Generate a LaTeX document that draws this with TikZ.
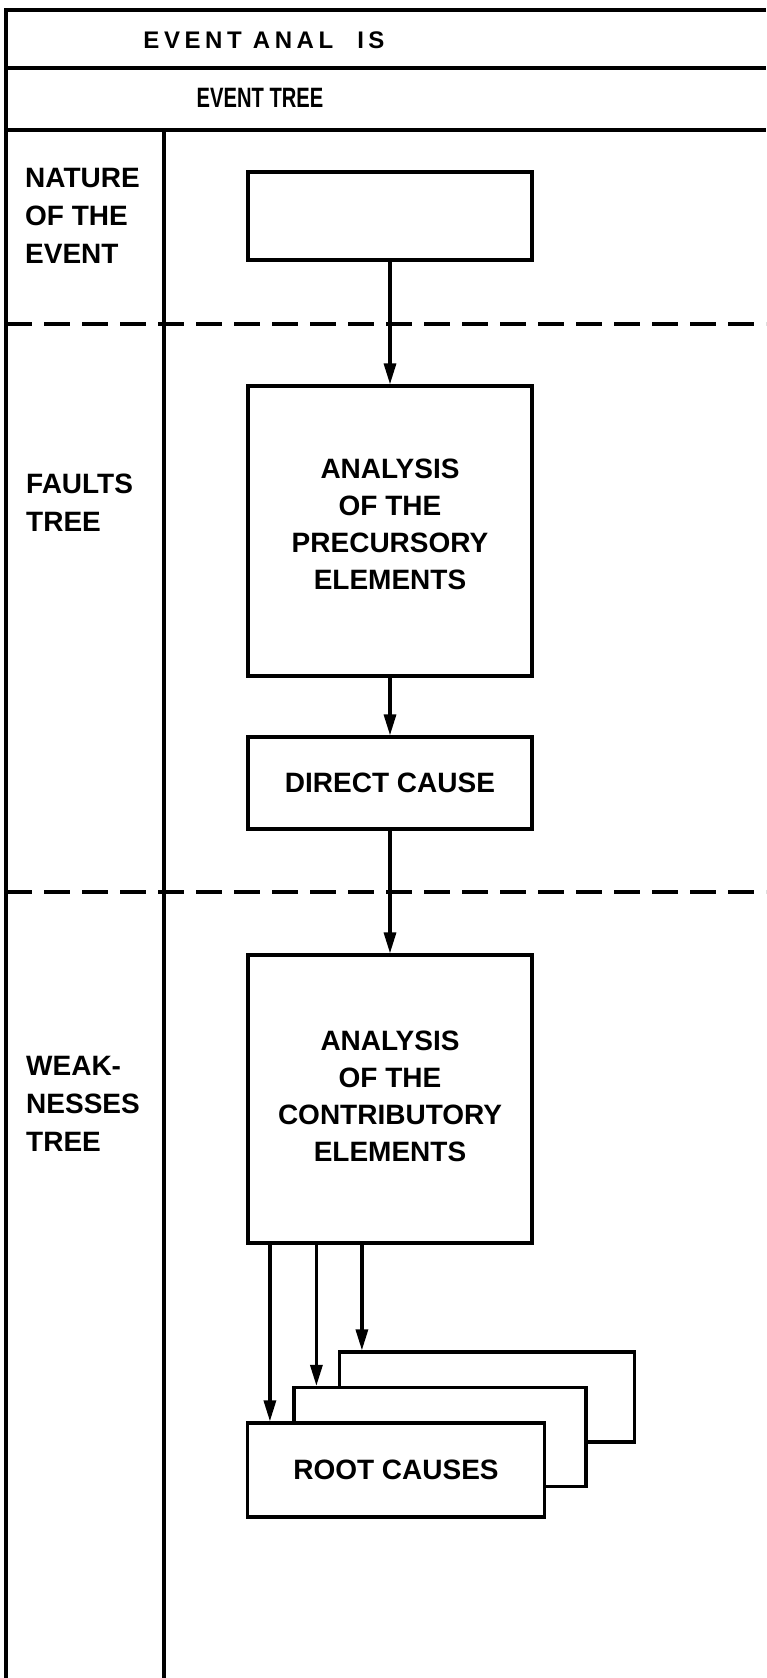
\documentclass[tikz,border=0pt]{standalone}
\usepackage{fontspec}
\setmainfont{Liberation Sans}
\usetikzlibrary{arrows.meta, positioning}

\begin{document}
\begin{tikzpicture}[x=1pt, y=-1pt, >={Triangle[length=21pt, width=12pt]},
    frame/.style={line width=3.2pt},
    sep/.style={line width=3.2pt, dash pattern=on 26pt off 12pt},
    box/.style={draw, line width=3.2pt, minimum width=284pt, align=center, inner sep=0pt, font=\fontsize{28}{37}\selectfont\bfseries},
    lbl/.style={anchor=north west, align=left, inner sep=0pt, font=\fontsize{28}{38}\selectfont\bfseries},
    link/.style={->, line width=3.2pt}]
    \useasboundingbox (0,0) rectangle (766,1678);
    % frame and bands
    \draw[frame] (766,10) -- (6,10) -- (6,1678);
    \draw[frame] (6,68) -- (766,68);
    \draw[frame] (6,130) -- (766,130);
    \draw[frame] (164,130) -- (164,1678);
    \draw[sep] (6,324) -- (766,324);
    \draw[sep] (6,892) -- (766,892);
    \node[font=\fontsize{24}{24}\selectfont\bfseries\addfontfeature{LetterSpace=19}] (title) at (264,40) {EVENT ANAL\hspace{24pt}IS};
    \node[font=\fontsize{28}{28}\selectfont\bfseries] (treehead) at (260,98) {\scalebox{0.72}[1]{EVENT TREE}};
    \node[lbl] (natlbl) at (25,168) {NATURE\\OF THE\\EVENT};
    \node[lbl] (faultlbl) at (26,474) {FAULTS\\TREE};
    \node[lbl] (weaklbl) at (26,1056) {WEAK-\\NESSES\\TREE};
    % boxes
    \node[box, minimum height=88pt] (evbox) at (390,216) {};
    \node[box, minimum height=290pt, text depth=14pt] (precbox) at (390,531) {ANALYSIS\\OF THE\\PRECURSORY\\ELEMENTS};
    \node[box, minimum height=92pt] (directbox) at (390,783) {DIRECT CAUSE};
    \node[box, minimum height=288pt, text depth=6pt] (contribbox) at (390,1099) {ANALYSIS\\OF THE\\CONTRIBUTORY\\ELEMENTS};
    % root causes stack
    \node[box, minimum width=295pt, minimum height=90pt] (rootC) at (487,1397) {};
    \node[box, fill=white, minimum width=292pt, minimum height=99pt] (rootB) at (440,1437) {};
    \node[box, fill=white, minimum width=297pt, minimum height=94pt] (rootA) at (396,1470) {ROOT CAUSES};
    \draw[link] (evbox) -- (precbox);
    \draw[link] (precbox) -- (directbox);
    \draw[link] (directbox) -- (contribbox);
    \foreach \r in {rootA, rootB, rootC} {
        \coordinate (tip\r) at ([xshift=24pt]\r.north west);
        \draw[link] (tip\r |- contribbox.south) -- (tip\r);
    }
\end{tikzpicture}
\end{document}
